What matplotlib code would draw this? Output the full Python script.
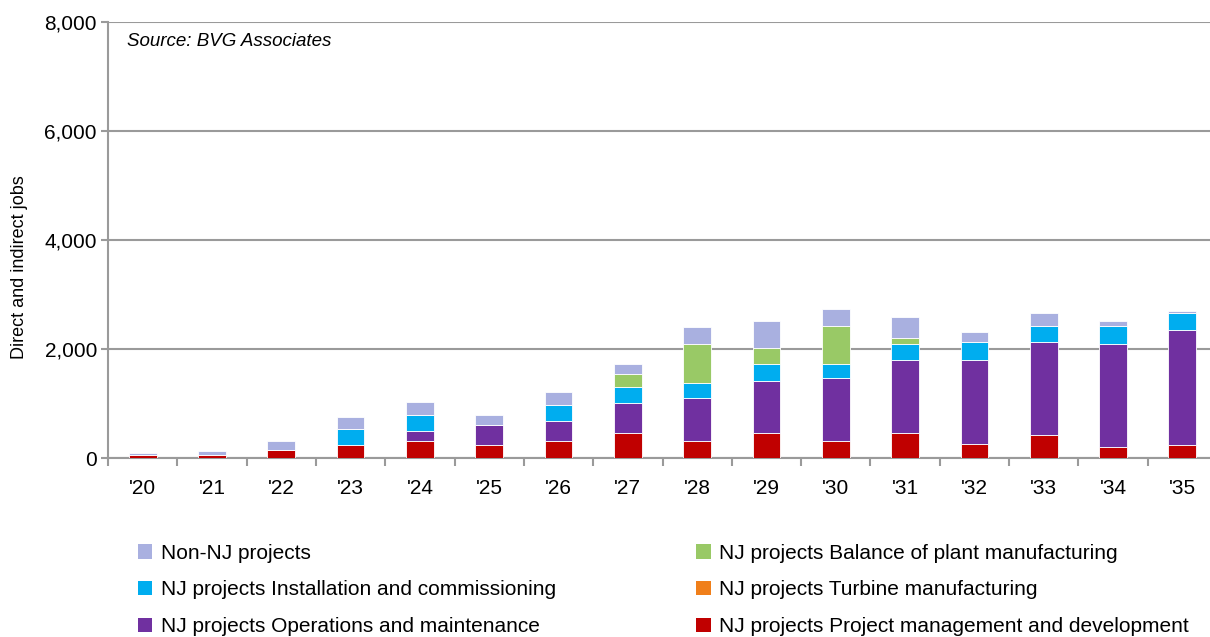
import numpy as np
import matplotlib.pyplot as plt
from matplotlib.patches import Patch

# ==== Data ====
years = ["'20", "'21", "'22", "'23", "'24", "'25", "'26", "'27",
         "'28", "'29", "'30", "'31", "'32", "'33", "'34", "'35"]

pm_dev    = [50, 55, 155, 230, 310, 235, 310, 460, 310, 460, 310, 460, 265, 425, 200, 235]
ops_maint = [0, 0, 0, 0, 180, 365, 365, 550, 785, 960, 1150, 1335, 1530, 1705, 1895, 2120]
turbine   = [0] * 16
install   = [0, 0, 0, 300, 300, 0, 300, 300, 290, 300, 260, 300, 335, 300, 335, 300]
bop       = [0, 0, 0, 0, 0, 0, 0, 225, 710, 300, 710, 110, 0, 0, 0, 0]
non_nj    = [40, 70, 160, 230, 230, 195, 230, 185, 305, 485, 300, 375, 185, 225, 75, 35]

series = [
    ('NJ projects Project management and development', pm_dev,    '#C00000'),
    ('NJ projects Operations and maintenance',         ops_maint, '#7030A0'),
    ('NJ projects Turbine manufacturing',              turbine,   '#F07F1A'),
    ('NJ projects Installation and commissioning',     install,   '#00ADEF'),
    ('NJ projects Balance of plant manufacturing',     bop,       '#99C966'),
    ('Non-NJ projects',                                non_nj,    '#A9B0E0'),
]

plt.rcParams['font.family'] = ['Liberation Sans', 'DejaVu Sans']

fig = plt.figure(figsize=(12.1, 6.37), dpi=100)
ax = fig.add_axes([108 / 1210, 179 / 637, 1109 / 1210, 436 / 637])

x = np.arange(len(years))
bottom = np.zeros(len(years))
handles = {}
for label, vals, color in series:
    vals = np.array(vals, dtype=float)
    ax.bar(x, vals, width=0.4, bottom=bottom, color=color,
           edgecolor='white', linewidth=0.6, zorder=3)
    bottom += vals
    handles[label] = Patch(facecolor=color, label=label)

ax.set_xlim(-0.5, len(years) - 0.5)
ax.set_ylim(0, 8000)
ax.set_yticks([0, 2000, 4000, 6000, 8000])
ax.set_yticklabels(['0', '2,000', '4,000', '6,000', '8,000'])
ax.grid(axis='y', color='#9A9A9A', linewidth=1.5, zorder=0)

# category labels between boundary tick marks
ax.set_xticks(x)
ax.set_xticklabels(years)
ax.tick_params(axis='x', length=0, labelsize=15, pad=15)
ax.set_xticks(np.arange(-0.5, len(years)), minor=True)
ax.tick_params(axis='x', which='minor', length=6, width=1.5, color='#9A9A9A',
               direction='out')
ax.tick_params(axis='y', length=5, width=1.5, color='#9A9A9A', labelsize=15, pad=3)

for side in ['top', 'right']:
    ax.spines[side].set_visible(False)
for side in ['left', 'bottom']:
    ax.spines[side].set_color('#9A9A9A')
    ax.spines[side].set_linewidth(1.5)

ax.set_ylabel('Direct and indirect jobs', fontsize=13)
ax.yaxis.set_label_coords(-0.072, 0.438)
ax.text(0.017, 0.956, 'Source: BVG Associates', transform=ax.transAxes,
        fontsize=13.5, style='italic', va='center', ha='left')

order = ['Non-NJ projects',
         'NJ projects Installation and commissioning',
         'NJ projects Operations and maintenance',
         'NJ projects Balance of plant manufacturing',
         'NJ projects Turbine manufacturing',
         'NJ projects Project management and development']
fig.legend(handles=[handles[k] for k in order], ncol=2, frameon=False,
           loc='upper left', bbox_to_anchor=(119 / 1210, 1 - 525 / 637),
           fontsize=15, handlelength=0.7, handleheight=0.7, handletextpad=0.4,
           labelspacing=0.85, columnspacing=6.75)

plt.savefig('out.png', dpi=100)
